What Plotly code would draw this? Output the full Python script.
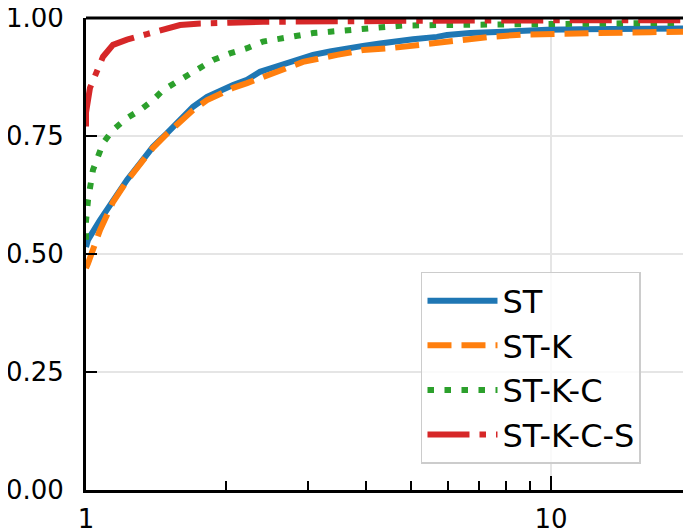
import plotly.graph_objects as go

# ---- data ----
st_x = [1.0, 1.01, 1.072, 1.143, 1.225, 1.307, 1.393, 1.494, 1.593, 1.699, 1.821, 1.942,
        2.071, 2.22, 2.367, 2.487, 2.614, 2.843, 3.077, 3.347, 3.641, 3.942, 4.289, 4.805,
        5.05, 5.686, 5.975, 6.696, 7.036, 8.286, 9.804, 11.54, 14.07, 18.94, 20.0]
st_y = [0.515, 0.53, 0.572, 0.614, 0.657, 0.692, 0.727, 0.756, 0.784, 0.812, 0.833, 0.847,
        0.858, 0.869, 0.886, 0.893, 0.90, 0.911, 0.922, 0.929, 0.936, 0.941, 0.946, 0.953,
        0.955, 0.96, 0.964, 0.968, 0.969, 0.973, 0.975, 0.976, 0.977, 0.978, 0.978]

stk_x = [1.0, 1.01, 1.072, 1.143, 1.225, 1.307, 1.393, 1.494, 1.593, 1.699, 1.821, 1.942,
         2.071, 2.22, 2.367, 2.487, 2.614, 2.929, 3.466, 3.942, 4.506, 5.412, 6.373, 7.393,
         8.707, 10.46, 12.31, 16.33, 20.0]
stk_y = [0.47, 0.48, 0.551, 0.61, 0.655, 0.69, 0.725, 0.755, 0.78, 0.805, 0.826, 0.84,
         0.852, 0.862, 0.872, 0.879, 0.886, 0.907, 0.922, 0.932, 0.936, 0.946, 0.953, 0.96,
         0.965, 0.967, 0.969, 0.970, 0.971]

stkc_x = [1.0, 1.0, 1.01, 1.035, 1.088, 1.143, 1.225, 1.307, 1.393, 1.464, 1.593, 1.733,
          1.876, 2.04, 2.22, 2.402, 2.614, 2.843, 3.077, 3.347, 3.826, 4.081, 4.805, 5.686,
          6.696, 8.286, 10.46, 14.07, 20.0]
stkc_y = [0.53, 0.57, 0.614, 0.678, 0.735, 0.763, 0.788, 0.805, 0.826, 0.847, 0.869, 0.89,
          0.911, 0.925, 0.936, 0.95, 0.957, 0.964, 0.968, 0.971, 0.975, 0.978, 0.984, 0.985,
          0.986, 0.987, 0.988, 0.989, 0.99]

stkcs_x = [1.0, 1.0, 1.02, 1.054, 1.088, 1.143, 1.225, 1.353, 1.464, 1.593, 1.733, 1.876,
           2.04, 2.402, 3.0, 5.0, 10.0, 20.0]
stkcs_y = [0.77, 0.80, 0.852, 0.886, 0.918, 0.943, 0.954, 0.966, 0.975, 0.985, 0.988, 0.99,
           0.99, 0.992, 0.993, 0.994, 0.995, 0.995]

series_names = ["ST", "ST-K", "ST-K-C", "ST-K-C-S"]
y_ticks = [0.0, 0.25, 0.5, 0.75, 1.0]
y_tick_text = ["0.00", "0.25", "0.50", "0.75", "1.00"]
x_ticks = [1, 10]
x_tick_text = ["1", "10"]
x_minor = [2, 3, 4, 5, 6, 7, 8, 9, 20]

colors = ["#1f77b4", "#ff7f0e", "#2ca02c", "#d62728"]
dashes = ["solid", "24px,10px", "6.5px,10.5px", "42px,10px,6.5px,10px"]
xs = [st_x, stk_x, stkc_x, stkcs_x]
ys = [st_y, stk_y, stkc_y, stkcs_y]

FONT = "DejaVu Sans"

fig = go.Figure()
for name, x, y, c, d in zip(series_names, xs, ys, colors, dashes):
    fig.add_trace(go.Scatter(x=x, y=y, mode="lines", name=name,
                             line=dict(color=c, width=6, dash=d)))

fig.update_layout(
    width=691, height=529,
    margin=dict(l=78, r=8, t=10, b=47, autoexpand=False),
    paper_bgcolor="white",
    plot_bgcolor="white",
    font=dict(family=FONT, size=26, color="black"),
    showlegend=True,
    legend=dict(x=0.5537, y=0.462, xanchor="left", yanchor="top",
                bgcolor="rgba(255,255,255,0.8)", bordercolor="#cccccc", borderwidth=1.5,
                font=dict(family=FONT, size=32, color="black"),
                itemwidth=70,
                ),
    shapes=[
        dict(type="line", xref="paper", yref="paper", x0=0, x1=1, y0=1, y1=1,
             line=dict(color="black", width=3)),
    ],
)

fig.update_xaxes(type="log", range=[0, 1.30103], automargin=False,
                 tickvals=x_ticks, ticktext=x_tick_text, ticklabeloverflow="allow",
                 ticks="inside", ticklen=14, tickwidth=2, tickcolor="black",
                 showline=True, linewidth=3, linecolor="black",
                 showgrid=True, gridcolor="#e5e5e5", gridwidth=2,
                 zeroline=False, ticklabelstandoff=4,
                 minor=dict(tickvals=x_minor, ticks="inside", ticklen=9, tickwidth=1.5,
                            tickcolor="black", showgrid=False))
fig.update_yaxes(range=[0, 1], automargin=False,
                 tickvals=y_ticks, ticktext=y_tick_text, ticklabeloverflow="allow",
                 ticks="inside", ticklen=11, tickwidth=2, tickcolor="black",
                 showline=True, linewidth=3, linecolor="black",
                 showgrid=True, gridcolor="#e5e5e5", gridwidth=2,
                 zeroline=False, ticklabelstandoff=14)

fig.write_html("out.html")
